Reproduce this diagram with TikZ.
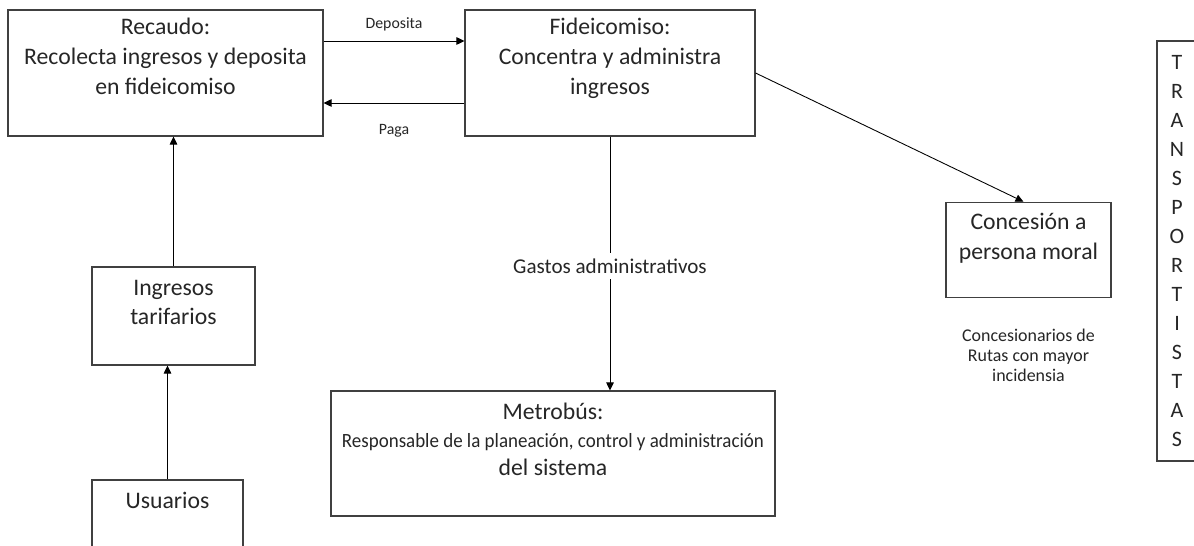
\documentclass[tikz,border=0pt]{standalone}
\usepackage{fontspec}
\usepackage{graphicx}
\setmainfont{Carlito}
\usetikzlibrary{arrows.meta, positioning, calc}
\definecolor{boxline}{HTML}{404040}
\definecolor{inktext}{HTML}{262626}

\begin{document}
\begin{tikzpicture}[
    box/.style     = {draw=boxline, line width=0.6pt, inner sep=0pt},
    boxtxt/.style  = {anchor=north, align=center, inner sep=0pt, text=inktext,
                      font=\fontsize{13.5}{17}\selectfont},
    flowlbl/.style = {font=\fontsize{9}{11.4}\selectfont, text=inktext, align=center},
    midlbl/.style  = {font=\fontsize{12}{14}\selectfont, text=inktext, fill=white},
    flow/.style    = {-{Triangle[length=1.6mm, width=1.5mm]}, line width=0.5pt, black},
]

% fixed canvas, same proportions as the original slide
\useasboundingbox (0,0) rectangle (23.88,-10.92);
\clip (0,0) rectangle (23.88,-10.92);

% --- boxes ------------------------------------------------------------
\node[box, minimum width=63mm, minimum height=25.2mm]   (recaudo)     at (3.31,-1.46)  {};
\node[box, minimum width=58mm, minimum height=25.2mm]   (fideicomiso) at (12.20,-1.46) {};
\node[box, minimum width=32.6mm, minimum height=19.6mm] (ingresos)    at (3.47,-6.32)  {};
\node[box, minimum width=30.2mm, minimum height=16mm]   (usuarios)    at (3.35,-10.4)  {};
\node[box, minimum width=88.8mm, minimum height=25mm]   (metrobus)    at (11.06,-9.07) {};
\node[box, minimum width=33mm, minimum height=19mm]     (concesion)   at (20.57,-4.995) {};
\node[box, minimum width=8mm, minimum height=84mm, align=center,
      font=\fontsize{12.5}{16.5}\selectfont, text=inktext] (transp) at (23.54,-5.02)
      {T\\R\\A\\N\\S\\P\\O\\R\\T\\I\\S\\T\\A\\S};

% --- box texts (top aligned) ------------------------------------------
\node[boxtxt] (recaudotxt)  at ([yshift=-1.7mm]recaudo.north)
      {Recaudo:\\Recolecta ingresos y deposita\\en fideicomiso};
\node[boxtxt] (fideitxt)    at ([yshift=-1.7mm]fideicomiso.north)
      {Fideicomiso:\\Concentra y administra\\ingresos};
\node[boxtxt] (ingresostxt) at ([yshift=-2.6mm]ingresos.north)
      {Ingresos\\tarifarios};
\node[boxtxt] (usuariostxt) at ([yshift=-2.4mm]usuarios.north) {Usuarios};
% middle line is a bit tighter in the original to fit the box
\node[boxtxt, font=\fontsize{13.5}{16}\selectfont] (metrobustxt) at ([yshift=-2.4mm]metrobus.north)
      {Metrobús:\\{\fontsize{11.5}{16}\selectfont\resizebox{84.4mm}{\height}{Responsable de la planeación, control y administración}}\\del sistema};
\node[boxtxt] (concesiontxt) at ([yshift=-2.2mm]concesion.north)
      {Concesión a\\persona moral};
\node[flowlbl, font=\fontsize{10.2}{11.4}\selectfont, below=5mm of concesion] (rutaslbl)
      {Concesionarios de\\Rutas con mayor\\incidensia};

% --- money flows -------------------------------------------------------
\draw[flow] ([yshift=6.4mm]recaudo.east) --
      node[flowlbl, above=0.7mm] (depositalbl) {Deposita}
      ([yshift=6.4mm]fideicomiso.west);
\draw[flow] ([yshift=-6mm]fideicomiso.west) --
      node[flowlbl, below=3mm] (pagalbl) {Paga}
      ([yshift=-6mm]recaudo.east);
\draw[flow] (ingresos.north) -- (ingresos.north |- recaudo.south);
\draw[flow] (usuarios.north) -- (usuarios.north |- ingresos.south);
\draw[flow] (fideicomiso.south) --
      node[midlbl, pos=0.51] (gastoslbl) {Gastos administrativos}
      (fideicomiso.south |- metrobus.north);
\draw[flow] (fideicomiso.east) -- ([xshift=-1mm]concesion.north);

\end{tikzpicture}
\end{document}
